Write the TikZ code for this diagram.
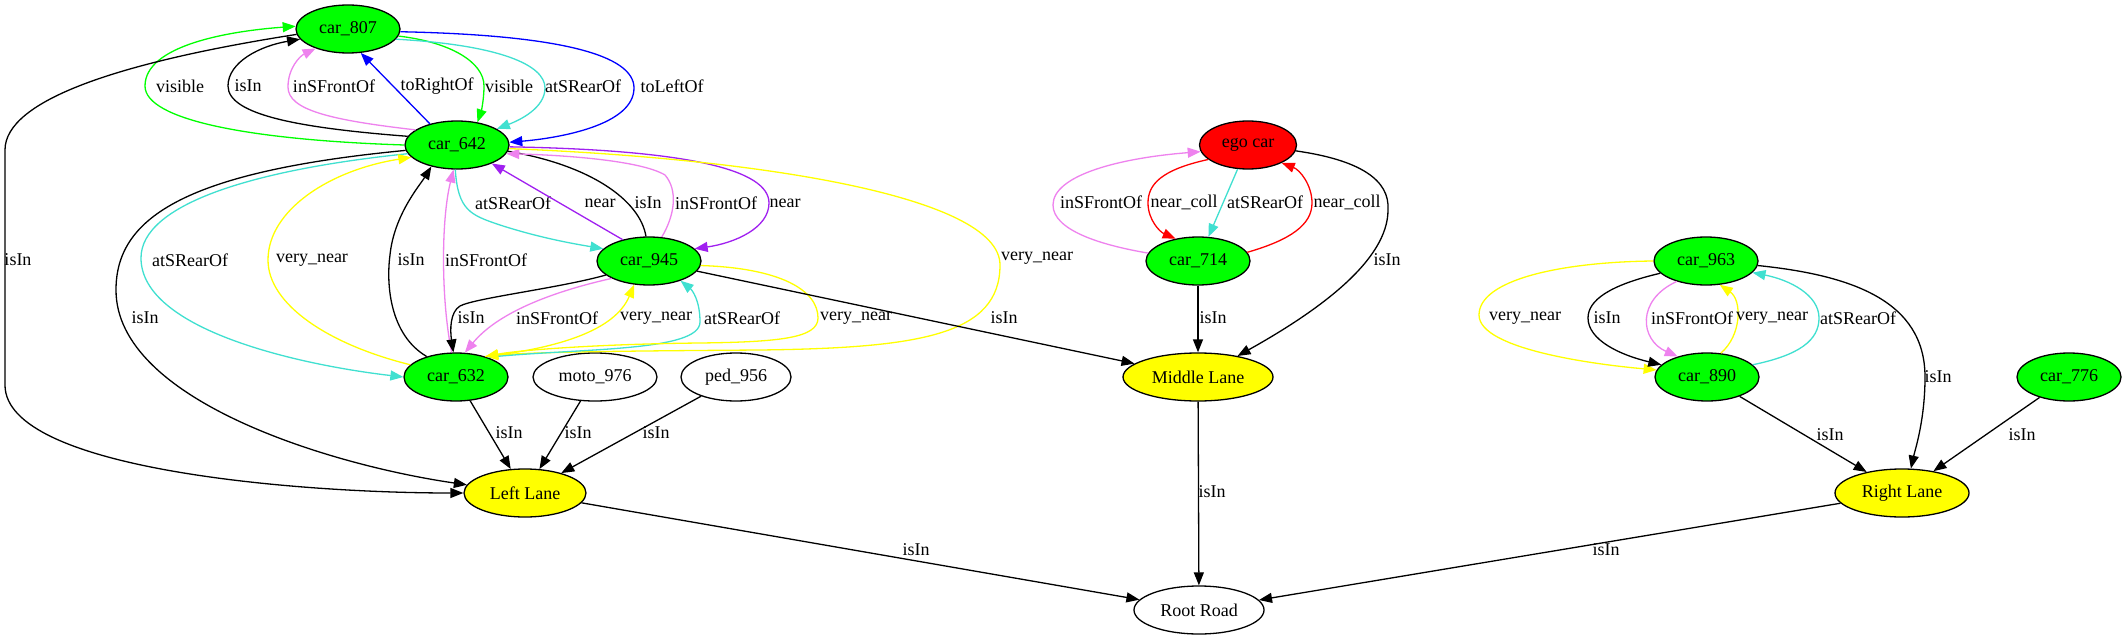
\documentclass[tikz,border=0pt]{standalone}
\usepackage{fontspec}
\setmainfont{Liberation Serif}
\usetikzlibrary{shapes.geometric,arrows.meta}
\definecolor{gvgreen}{HTML}{00FF00}
\definecolor{gvyellow}{HTML}{FFFF00}
\definecolor{gvred}{HTML}{FF0000}
\definecolor{gvturq}{HTML}{40E0D0}
\definecolor{gvviolet}{HTML}{EE82EE}
\definecolor{gvpurple}{HTML}{A020F0}
\definecolor{gvblue}{HTML}{0000FF}
\begin{document}
\begin{tikzpicture}[x=1pt,y=-1pt,
  every node/.style={font=\fontsize{18}{20}\selectfont},
  gnode/.style={ellipse, draw=black, line width=1.3pt, inner sep=0pt, minimum height=48pt},
  carn/.style={gnode, fill=gvgreen, minimum width=104pt},
  lane/.style={gnode, fill=gvyellow},
  whiten/.style={gnode, fill=white},
  egon/.style={gnode, fill=gvred, minimum width=97pt},
  lnk/.style={line width=1.3pt, black},
  arr/.style={line width=1.3pt, -{Triangle[length=13pt,width=10pt]}},
  arrk/.style={arr, black},
  arrg/.style={arr, gvgreen},
  arry/.style={arr, gvyellow},
  arrr/.style={arr, gvred},
  arrt/.style={arr, gvturq},
  arrv/.style={arr, gvviolet},
  arrp/.style={arr, gvpurple},
  arrb/.style={arr, gvblue},
  lbl/.style={inner sep=0pt, text=black}
]
\useasboundingbox (0,0) rectangle (2127,639);
\fill[white] (0,0) rectangle (2127,639);

% nodes
\node[carn] (c807) at (348,29) {car\_807};
\node[carn] (c642) at (457,145) {car\_642};
\node[carn] (c945) at (649,261) {car\_945};
\node[carn] (c632) at (456,377) {car\_632};
\node[whiten, minimum width=124pt] (moto) at (595,377) {moto\_976};
\node[whiten, minimum width=110pt] (ped) at (736,377) {ped\_956};
\node[lane, minimum width=122pt] (left) at (525,493) {Left Lane};
\node[egon] (ego) at (1248,145) {ego car};
\node[carn] (c714) at (1198,261) {car\_714};
\node[lane, minimum width=150pt] (mid) at (1198,377) {Middle Lane};
\node[whiten, minimum width=130pt] (root) at (1199,610) {Root Road};
\node[carn] (c963) at (1706,261) {car\_963};
\node[carn] (c890) at (1707,377) {car\_890};
\node[carn] (c776) at (2069,377) {car\_776};
\node[lane, minimum width=134pt] (right) at (1902,493) {Right Lane};

% car_642 <-> car_807
\draw[arrg] (c642.west) .. controls (250,140) and (145,120) .. (145,86) .. controls (145,45) and (230,31) .. (c807.177) node[lbl] (L1) at (180,86) {visible};
\draw[arrk] (c642.170) .. controls (300,128) and (228,115) .. (228,86) .. controls (228,62) and (260,46) .. (c807.192) node[lbl] (L2) at (248,86) {isIn};
\draw[arrv] (c642.160) .. controls (330,120) and (288,110) .. (288,87) .. controls (288,68) and (300,56) .. (c807.211) node[lbl] (L3) at (334,86) {inSFrontOf};
\draw[arrb] (c642.142) -- (c807.-62) node[lbl] (L4) at (437,86) {toRightOf};
\draw[arrg] (c807.-8) .. controls (450,42) and (484,62) .. (484,86) .. controls (484,100) and (481,112) .. (c642.48) node[lbl] (L5) at (509,86) {visible};
\draw[arrt] (c807.-12) .. controls (500,45) and (545,65) .. (545,88) .. controls (545,108) and (520,120) .. (c642.22) node[lbl] (L6) at (583,86) {atSRearOf};
\draw[arrb] (c807.-3) .. controls (560,35) and (634,55) .. (634,88) .. controls (634,125) and (560,138) .. (c642.3) node[lbl] (L7) at (672,86) {toLeftOf};

% far left isIn
\draw[arrk] (c807.186) .. controls (120,62) and (5,100) .. (5,150) -- (5,385) .. controls (5,470) and (300,493) .. (left.180) node[lbl] (L8) at (18,260) {isIn};

% car_642 <-> car_632 (left side)
\draw[arrt] (c642.190) .. controls (250,170) and (141,205) .. (141,258) .. controls (141,330) and (300,365) .. (c632.180) node[lbl] (L9) at (190,260) {atSRearOf};
\draw[arrk] (c642.186) .. controls (180,172) and (116,220) .. (116,290) .. controls (116,400) and (330,465) .. (left.172) node[lbl] (L10) at (145,318) {isIn};
\draw[arry] (c632.165) .. controls (330,345) and (268,305) .. (268,260) .. controls (268,210) and (330,170) .. (c642.195) node[lbl] (L11) at (312,260) {very\_near};
\draw[arrk] (c632.145) .. controls (390,335) and (386,285) .. (390,255) .. controls (394,215) and (420,185) .. (c642.220) node[lbl] (L12) at (411,260) {isIn};
\draw[arrv] (c632.100) .. controls (441,300) and (441,220) .. (c642.262) node[lbl] (L13) at (486,260) {inSFrontOf};

% car_642 <-> car_945
\draw[arrt] (c642.266) .. controls (458,210) and (470,215) .. (500,225) .. controls (540,238) and (575,244) .. (c945.165) node[lbl] (L14) at (513,203) {atSRearOf};
\draw[arrp] (c945.141) -- (c642.-28) node[lbl] (L15) at (600,203) {near};
\draw[lnk] (c642.-7) .. controls (590,165) and (640,200) .. (c945.97) node[lbl] (L16) at (648,203) {isIn};
\draw[arrv] (c945.62) .. controls (675,215) and (678,190) .. (665,175) .. controls (640,160) and (560,155) .. (c642.-10) node[lbl] (L17) at (716,203) {inSFrontOf};
\draw[arrp] (c642.-2) .. controls (690,150) and (769,170) .. (769,203) .. controls (769,228) and (735,243) .. (c945.15) node[lbl] (L18) at (785,203) {near};
\draw[arry] (c642.-4) .. controls (750,158) and (1000,195) .. (1000,265) .. controls (1000,335) and (920,348) .. (760,350) .. controls (620,351) and (530,352) .. (c632.35) node[lbl] (L19) at (1037,258) {very\_near};

% car_945 <-> car_632
\draw[arrk] (c945.198) .. controls (560,288) and (475,298) .. (460,306) .. controls (450,312) and (450,330) .. (c632.96) node[lbl] (L20) at (471,318) {isIn};
\draw[arrv] (c945.205) .. controls (560,290) and (500,310) .. (c632.70) node[lbl] (L21) at (557,318) {inSFrontOf};
\draw[arry] (c632.35) .. controls (560,348) and (615,330) .. (c945.238) node[lbl] (L22) at (656,318) {very\_near};
\draw[arrt] (c632.32) .. controls (580,348) and (700,352) .. (700,322) .. controls (700,300) and (692,290) .. (c945.-32) node[lbl] (L23) at (742,318) {atSRearOf};
\draw[arry] (c945.-5) .. controls (780,268) and (818,290) .. (818,318) .. controls (818,338) and (780,342) .. (700,343) .. controls (600,344) and (520,350) .. (c632.35) node[lbl] (L24) at (856,318) {very\_near};
\draw[arrk] (c945) -- (mid) node[lbl] (L25) at (1004,318) {isIn};

% into Left Lane
\draw[arrk] (c632) -- (left) node[lbl] (L26) at (509,433) {isIn};
\draw[arrk] (moto) -- (left) node[lbl] (L27) at (578,433) {isIn};
\draw[arrk] (ped) -- (left) node[lbl] (L28) at (656,433) {isIn};

% ego car cluster
\draw[arrv] (c714.171) .. controls (1100,245) and (1053,230) .. (1053,205) .. controls (1053,175) and (1120,158) .. (ego.188) node[lbl] (L29) at (1101,202) {inSFrontOf};
\draw[arrr] (ego.200) .. controls (1160,170) and (1148,185) .. (1148,203) .. controls (1148,220) and (1160,232) .. (c714.135) node[lbl] (L30) at (1184,202) {near\_coll};
\draw[arrt] (ego) -- (c714) node[lbl] (L31) at (1265,202) {atSRearOf};
\draw[arrr] (c714.10) .. controls (1290,240) and (1312,225) .. (1312,203) .. controls (1312,185) and (1300,170) .. (ego.-28) node[lbl] (L32) at (1347,202) {near\_coll};
\draw[arrk] (ego.-7) .. controls (1360,160) and (1390,180) .. (1388,210) .. controls (1388,260) and (1320,310) .. (mid.28) node[lbl] (L33) at (1387,260) {isIn};
\draw[arrk] (c714) -- (mid) node[lbl] (L34) at (1213,318) {isIn};

% right cluster
\draw[arry] (c963.180) .. controls (1560,262) and (1479,280) .. (1479,315) .. controls (1479,350) and (1600,365) .. (c890.172) node[lbl] (L35) at (1525,318) {very\_near};
\draw[arrk] (c963.195) .. controls (1610,285) and (1588,300) .. (1588,318) .. controls (1588,340) and (1620,355) .. (c890.165) node[lbl] (L36) at (1607,318) {isIn};
\draw[arrv] (c963.215) .. controls (1636,300) and (1640,340) .. (c890.145) node[lbl] (L37) at (1692,318) {inSFrontOf};
\draw[arry] (c890.60) .. controls (1742,335) and (1742,300) .. (c963.-60) node[lbl] (L38) at (1772,318) {very\_near};
\draw[arrt] (c890.15) .. controls (1800,355) and (1819,340) .. (1819,318) .. controls (1819,295) and (1790,280) .. (c963.-14) node[lbl] (L39) at (1858,318) {atSRearOf};
\draw[arrk] (c963.-5) .. controls (1850,275) and (1925,300) .. (1925,377) .. controls (1925,420) and (1915,450) .. (right.70) node[lbl] (L40) at (1938,377) {isIn};
\draw[arrk] (c890) -- (right) node[lbl] (L41) at (1830,435) {isIn};
\draw[arrk] (c776) -- (right) node[lbl] (L42) at (2022,435) {isIn};

% into Root Road
\draw[arrk] (left) -- (root) node[lbl] (L43) at (916,550) {isIn};
\draw[arrk] (mid) -- (root) node[lbl] (L44) at (1212,492) {isIn};
\draw[arrk] (right) -- (root) node[lbl] (L45) at (1606,550) {isIn};
\end{tikzpicture}
\end{document}
